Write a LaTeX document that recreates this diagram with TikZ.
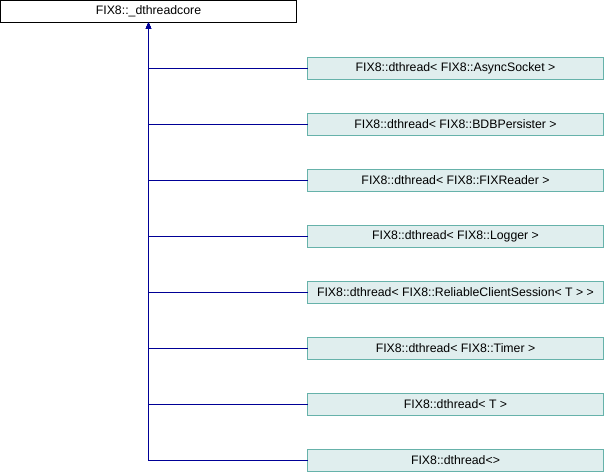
\documentclass[tikz,border=0pt]{standalone}
\usepackage{fontspec}
\setmainfont{Liberation Sans}
\usetikzlibrary{arrows.meta}
\definecolor{edgeblue}{RGB}{0,0,150}
\definecolor{boxfill}{RGB}{224,238,238}
\definecolor{boxline}{RGB}{102,178,170}
\begin{document}
\begin{tikzpicture}[x=1pt,y=-1pt,
  rootbox/.style={draw=black,fill=white,line width=1pt,rectangle,inner sep=0pt,outer sep=0pt,
    minimum width=295.5pt,minimum height=22pt,font=\fontsize{12.3}{14}\selectfont},
  childbox/.style={draw=boxline,fill=boxfill,line width=1pt,rectangle,inner sep=0pt,outer sep=0pt,
    minimum width=296pt,minimum height=22pt,font=\fontsize{12.3}{14}\selectfont},
  edge/.style={draw=edgeblue,line width=1pt,-{Triangle[width=5pt,length=6pt]}}]
\useasboundingbox (0,0) rectangle (604,472);
\node[rootbox] (root) at (148.5,11.5) {FIX8::\_dthreadcore};
\node[childbox] (c0) at (455.5,68.5) {FIX8::dthread< FIX8::AsyncSocket >};
\node[childbox] (c1) at (455.5,124.5) {FIX8::dthread< FIX8::BDBPersister >};
\node[childbox] (c2) at (455.5,180.5) {FIX8::dthread< FIX8::FIXReader >};
\node[childbox] (c3) at (455.5,236.5) {FIX8::dthread< FIX8::Logger >};
\node[childbox] (c4) at (455.5,292.5) {FIX8::dthread< FIX8::ReliableClientSession< T > >};
\node[childbox] (c5) at (455.5,348.5) {FIX8::dthread< FIX8::Timer >};
\node[childbox] (c6) at (455.5,404.5) {FIX8::dthread< T >};
\node[childbox] (c7) at (455.5,460.5) {FIX8::dthread<>};
\foreach \k in {0,...,7}{
  \draw[edge] (c\k.west) -| (root.south);
}
\end{tikzpicture}
\end{document}
